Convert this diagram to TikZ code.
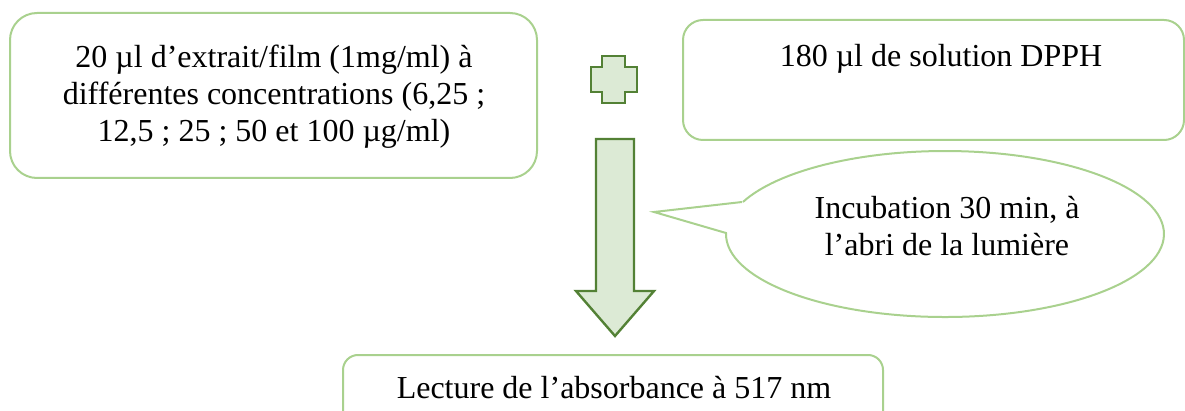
\documentclass[tikz,border=0pt]{standalone}
\usepackage{fontspec}
\setmainfont{Liberation Serif}
\definecolor{boxline}{HTML}{A9D18E}
\definecolor{shapefill}{HTML}{DCEAD5}
\definecolor{shapeline}{HTML}{538135}
\begin{document}
\begin{tikzpicture}[x=1pt,y=-1pt,
  txt/.style={font=\fontsize{32}{37}\selectfont, inner sep=0pt, align=center},
  roundbox/.style={draw=boxline, line width=2pt},
  bigshape/.style={draw=shapeline, fill=shapefill, line width=2.4pt, line join=miter}]
\useasboundingbox (0,0) rectangle (1185,411);
\begin{scope}
\clip (0,0) rectangle (1185,411);
% boxes
\draw[roundbox, rounded corners=27pt] (10,13) rectangle (537,178);
\draw[roundbox, rounded corners=20pt] (683,20) rectangle (1184,140);
\draw[roundbox, rounded corners=15pt] (343,355) rectangle (883,440);
% plus sign
\draw[bigshape] (602,56) -- (625,56) -- (625,67) -- (637,67) -- (637,92) -- (625,92)
  -- (625,103) -- (602,103) -- (602,92) -- (591,92) -- (591,67) -- (602,67) -- cycle;
% block arrow
\draw[bigshape] (596,139) -- (634,139) -- (634,291) -- (654,291) -- (615,336)
  -- (576,291) -- (596,291) -- cycle;
% callout ellipse
\draw[roundbox, line join=miter] (742,202) -- (654,212) -- (726,233)
  arc[start angle=180.7, end angle=-157.3, x radius=219, y radius=83];
\end{scope}
% texts
\node[txt] (extrait) at (274,97) {20 µl d’extrait/film (1mg/ml) à\\différentes concentrations (6,25 ;\\12,5 ; 25 ; 50 et 100 µg/ml)};
\node[txt, anchor=base] (dpph) at (941,67) {180 µl de solution DPPH};
\node[txt] (incub) at (947,226) {Incubation 30 min, à\\l’abri de la lumière};
\node[txt, anchor=base] (lecture) at (614,398) {Lecture de l’absorbance à 517 nm};
\end{tikzpicture}
\end{document}
